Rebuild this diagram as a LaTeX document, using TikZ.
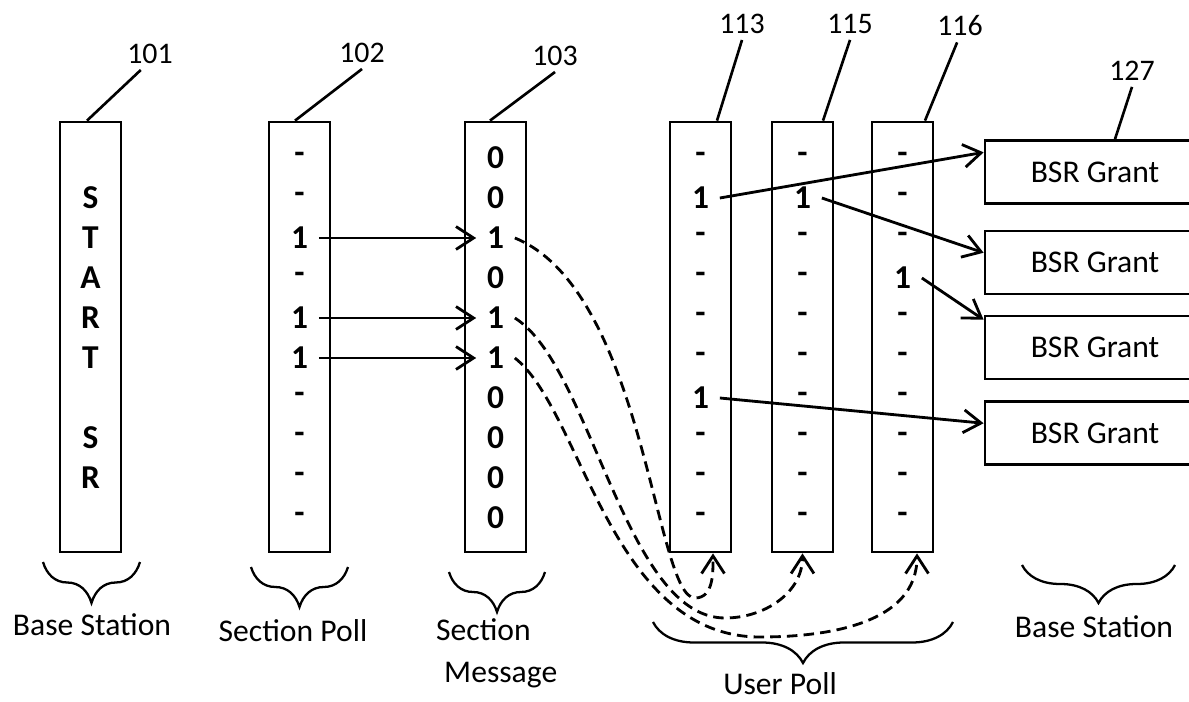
\documentclass[tikz,border=0pt]{standalone}
\usepackage{fontspec}
\setmainfont{Carlito}
\usetikzlibrary{arrows.meta,decorations.pathreplacing}

\begin{document}
\begin{tikzpicture}[
x=0.02cm, y=-0.02cm,
font=\fontsize{18}{22}\selectfont,
col/.style={draw, line width=1.6pt, minimum width=1.22cm, minimum height=8.6cm, inner sep=0pt},
bsr/.style={draw, line width=1.6pt, minimum width=4.4cm, minimum height=1.26cm, inner sep=0pt},
cell/.style={font=\fontsize{19}{22}\selectfont\bfseries, minimum width=0.76cm, minimum height=0.7cm, inner sep=0pt},
tag/.style={font=\fontsize{17}{20}\selectfont},
lead/.style={line width=1.5pt},
link/.style={line width=1.6pt, -{Straight Barb[length=10pt, width=13pt]}},
hop/.style={line width=1.6pt, dash pattern=on 6pt off 3.5pt, -{Straight Barb[length=10pt, width=13pt]}},
grp/.style={line width=1.3pt, decorate, decoration={brace, mirror, amplitude=#1}}
]

\path[use as bounding box, clip] (0,0) rectangle (1189,702);

\node[col] (b101) at (90.5,337) {};
\node[col] (b102) at (299.5,337) {};
\node[col] (b103) at (495.5,337) {};
\node[col] (b113) at (700.5,337) {};
\node[col] (b115) at (802.5,337) {};
\node[col] (b116) at (902.5,337) {};

\foreach \r/\t in {2/S,3/T,4/A,5/R,6/T,8/S,9/R}
  \node[cell] (s\r) at (90.5,118+40*\r) {\t};
\foreach \t [count=\r] in {-,-,1,-,1,1,-,-,-,-}
  \node[cell] (p\r) at (299.5,118+40*\r) {\t};
\foreach \t [count=\r] in {0,0,1,0,1,1,0,0,0,0}
  \node[cell] (m\r) at (495.5,118+40*\r) {\t};
\foreach \t [count=\r] in {-,1,-,-,-,-,1,-,-,-}
  \node[cell] (ua\r) at (700.5,118+40*\r) {\t};
\foreach \t [count=\r] in {-,1,-,-,-,-,-,-,-,-}
  \node[cell] (ub\r) at (802.5,118+40*\r) {\t};
\foreach \t [count=\r] in {-,-,-,1,-,-,-,-,-,-}
  \node[cell] (uc\r) at (902.5,118+40*\r) {\t};

\foreach \k/\y in {1/172,2/262.5,3/347.5,4/433}
  \node[bsr] (g\k) at (1095,\y) {BSR Grant};

\node[tag] (l101) at (150,54) {101};
\node[tag] (l102) at (362,53) {102};
\node[tag] (l103) at (555,56) {103};
\node[tag] (l113) at (742,24) {113};
\node[tag] (l115) at (850,24) {115};
\node[tag] (l116) at (960,26) {116};
\node[tag] (l127) at (1132,71) {127};

\draw[lead] (l101.-120) -- ([xshift=-0.07cm]b101.north);
\draw[lead] (l102.south) -- ([xshift=-0.09cm]b102.north);
\draw[lead] (l103.south) -- ([xshift=-0.11cm]b103.north);
\draw[lead] (l113.south) -- ([xshift=0.33cm]b113.north);
\draw[lead] (l115.south) -- ([xshift=0.41cm]b115.north);
\draw[lead] (l116.-100) -- ([xshift=0.45cm]b116.north);
\draw[lead] (l127.south) -- ([xshift=0.4cm]g1.north);

\draw[link] (p3.east) -- (m3.west);
\draw[link] (p5.east) -- (m5.west);
\draw[link] (p6.east) -- (m6.west);

\draw[link] (ua2.east) -- (g1.170);
\draw[link] (ub2.east) -- (g2.175);
\draw[link] (uc4.east) -- (g3.166);
\draw[link] (ua7.east) -- (g4.175);

\draw[hop] (m3.east) to[out=-22, in=180, out distance=2.8cm, in distance=0.8cm] (695,598)
  to[out=0, in=-90] ([xshift=0.25cm]b113.south);
\draw[hop] (m5.east) to[out=-32, in=180, out distance=1.8cm, in distance=2cm] (725,618)
  to[out=0, in=-90] (b115.south);
\draw[hop] (m6.east) to[out=-38, in=180, out distance=1.7cm, in distance=3cm] (760,637)
  to[out=0, in=-90] ([xshift=0.29cm]b116.south);

\draw[grp=0.82cm] (43,562) -- (140,562);
\draw[grp=0.8cm] (251,567) -- (348,567);
\draw[grp=0.8cm] (449,572) -- (545,572);
\draw[grp=0.82cm] (653,622) -- (953,622);
\draw[grp=0.76cm] (1022,565) -- (1175,565);

\node (t1) at (92,625) {Base Station};
\node (t2) at (293,631) {Section Poll};
\node[anchor=base west] (t3) at (430,640) {Section};
\node[anchor=base west] (t4) at (438,682) {Message};
\node[inner sep=0pt] (t5) at (780,684) {User Poll};
\node (t6) at (1094,627) {Base Station};
\end{tikzpicture}
\end{document}
